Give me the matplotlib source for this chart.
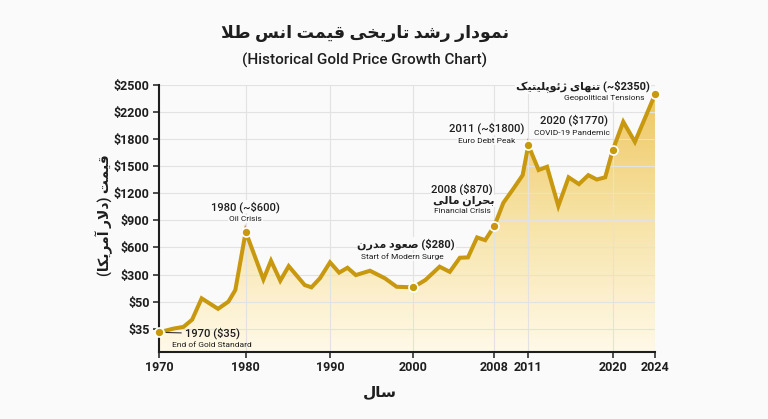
import matplotlib.pyplot as plt
import numpy as np
from matplotlib.colors import LinearSegmentedColormap

plt.rcParams["text.parse_math"] = False
FONT = ["Roboto", "DejaVu Sans"]
plt.rcParams["font.family"] = FONT

# ---- data ----
years = [1970, 1971.6, 1972.8, 1973.8, 1974.9, 1976.8, 1978.0, 1978.8, 1980,
         1982.1, 1983.0, 1984.1, 1985.1, 1987.0, 1987.8, 1988.8, 1990,
         1991.1, 1992.1, 1993.1, 1994.8, 1996.6, 1998.0, 2000,
         2001.2, 2002.6, 2003.6, 2004.6, 2005.4, 2006.3, 2007.1, 2008,
         2008.8, 2009.7, 2010.5, 2011, 2012.1, 2013.0, 2014.2, 2015.3,
         2016.4, 2017.4, 2018.3, 2019.2, 2020, 2021.0, 2022.1, 2024]
prices = [33, 35, 36, 40, 80, 46, 50, 157, 774,
          255, 453, 243, 393, 203, 182, 265, 435,
          321, 375, 295, 342, 265, 187, 182,
          250, 387, 330, 486, 490, 711, 681, 837,
          1095, 1254, 1401, 1734, 1458, 1494, 1059, 1377,
          1302, 1401, 1353, 1377, 1677, 2056, 1770, 2395]

key_years = [1970, 1980, 2000, 2008, 2011, 2020, 2024]

x_ticks = [1970, 1980, 1990, 2000, 2008, 2011, 2020, 2024]
y_ticks = [35, 50, 300, 600, 900, 1200, 1500, 1800, 2200, 2500]
y_tick_labels = ["$" + str(v) for v in y_ticks]

LINE = "#C8980F"
BG = "#FAFAFA"
INK = "#1E1E1E"

# ---- minimal Persian shaping (matplotlib has no complex text layout) ----
FORMS = {
    "ا": ("\uFE8D", "\uFE8E", None, None),
    "آ": ("\uFE81", "\uFE82", None, None),
    "ب": ("\uFE8F", "\uFE90", "\uFE91", "\uFE92"),
    "پ": ("\uFB56", "\uFB57", "\uFB58", "\uFB59"),
    "ت": ("\uFE95", "\uFE96", "\uFE97", "\uFE98"),
    "ح": ("\uFEA1", "\uFEA2", "\uFEA3", "\uFEA4"),
    "خ": ("\uFEA5", "\uFEA6", "\uFEA7", "\uFEA8"),
    "د": ("\uFEA9", "\uFEAA", None, None),
    "ر": ("\uFEAD", "\uFEAE", None, None),
    "ژ": ("\uFB8A", "\uFB8B", None, None),
    "س": ("\uFEB1", "\uFEB2", "\uFEB3", "\uFEB4"),
    "ش": ("\uFEB5", "\uFEB6", "\uFEB7", "\uFEB8"),
    "ص": ("\uFEB9", "\uFEBA", "\uFEBB", "\uFEBC"),
    "ط": ("\uFEC1", "\uFEC2", "\uFEC3", "\uFEC4"),
    "ع": ("\uFEC9", "\uFECA", "\uFECB", "\uFECC"),
    "ق": ("\uFED5", "\uFED6", "\uFED7", "\uFED8"),
    "ک": ("\uFB8E", "\uFB8F", "\uFB90", "\uFB91"),
    "ل": ("\uFEDD", "\uFEDE", "\uFEDF", "\uFEE0"),
    "م": ("\uFEE1", "\uFEE2", "\uFEE3", "\uFEE4"),
    "ن": ("\uFEE5", "\uFEE6", "\uFEE7", "\uFEE8"),
    "و": ("\uFEED", "\uFEEE", None, None),
    "ه": ("\uFEE9", "\uFEEA", "\uFEEB", "\uFEEC"),
    "ی": ("\uFBFC", "\uFBFD", "\uFBFE", "\uFBFF"),
    "ئ": ("\uFE89", "\uFE8A", "\uFE8B", "\uFE8C"),
}
LAM_ALEF = {"ا": ("\uFEFB", "\uFEFC"), "آ": ("\uFEF5", "\uFEF6")}


def joins_next(c):
    return c in FORMS and FORMS[c][2] is not None


def shape(text):
    out = []
    i = 0
    while i < len(text):
        c = text[i]
        if c not in FORMS:
            out.append(c)
            i += 1
            continue
        prev_joins = i > 0 and joins_next(text[i - 1])
        if c == "ل" and i + 1 < len(text) and text[i + 1] in LAM_ALEF:
            lig = LAM_ALEF[text[i + 1]]
            out.append(lig[1] if prev_joins else lig[0])
            i += 2
            continue
        next_joins = joins_next(c) and i + 1 < len(text) and text[i + 1] in FORMS
        isol, fin, init, med = FORMS[c]
        if prev_joins and next_joins:
            out.append(med)
        elif prev_joins:
            out.append(fin)
        elif next_joins:
            out.append(init)
        else:
            out.append(isol)
        i += 1
    return "".join(out)


def fa(text):
    return shape(text)[::-1].translate(str.maketrans("()", ")("))


# ---- piecewise scales so the ticks sit where the reference puts them ----
X_POS = [159.3, 245.7, 330.0, 413.3, 494.3, 528.3, 612.7, 655.0]


def _interp_ext(v, xp, fp):
    v = np.asarray(v, dtype=float)
    out = np.interp(v, xp, fp)
    lo = (fp[1] - fp[0]) / (xp[1] - xp[0])
    hi = (fp[-1] - fp[-2]) / (xp[-1] - xp[-2])
    out = np.where(v < xp[0], fp[0] + (v - xp[0]) * lo, out)
    out = np.where(v > xp[-1], fp[-1] + (v - xp[-1]) * hi, out)
    return out


Y_IDX = list(range(len(y_ticks)))


def x_fwd(v):
    return _interp_ext(v, x_ticks, X_POS)


def x_inv(p):
    return _interp_ext(p, X_POS, x_ticks)


def y_fwd(v):
    return _interp_ext(v, y_ticks, Y_IDX)


def y_inv(i):
    return _interp_ext(i, Y_IDX, y_ticks)


Y_BOTTOM = float(y_inv(-0.85))

fig = plt.figure(figsize=(7.68, 4.19), dpi=100, facecolor=BG)
ax = fig.add_axes([159.3 / 768, 1 - 351.7 / 419, (655 - 159.3) / 768, (351.7 - 85) / 419])
ax.set_facecolor(BG)
ax.set_xscale("function", functions=(x_fwd, x_inv))
ax.set_yscale("function", functions=(y_fwd, y_inv))

# gradient fill under the line
poly = ax.fill_between(years, prices, Y_BOTTOM, facecolor="none", edgecolor="none")
cmap = LinearSegmentedColormap.from_list("gold", ["#FFF9E8", "#F7E3A6", "#EEC55E"])
grad = np.linspace(0, 1, 256).reshape(-1, 1)
im = ax.imshow(grad, extent=[0, 1, 0, 1], transform=ax.transAxes, origin="lower",
               aspect="auto", cmap=cmap, zorder=0.4)
im.set_clip_path(poly.get_paths()[0], transform=ax.transData)

ax.plot(years, prices, color=LINE, linewidth=2.9, solid_joinstyle="miter", zorder=3)
key_prices = [prices[years.index(y)] for y in key_years]
ax.plot(key_years, key_prices, "o", color=LINE, markersize=6.5,
        markeredgecolor="white", markeredgewidth=1.2, zorder=4, clip_on=False)

ax.set_xlim(1970, 2024)
ax.set_ylim(Y_BOTTOM, 2500)
ax.set_xticks(x_ticks)
ax.set_xticklabels([str(y) for y in x_ticks])
ax.set_yticks(y_ticks)
ax.set_yticklabels(y_tick_labels)
ax.minorticks_off()
for lab in ax.get_xticklabels() + ax.get_yticklabels():
    lab.set_fontweight("bold")
ax.tick_params(direction="out", length=4, width=1.1, labelsize=9, colors=INK, pad=3)
ax.grid(True, color="#E2E2E2", linewidth=0.8)
ax.set_axisbelow(True)
for side in ("top", "right"):
    ax.spines[side].set_visible(False)
for side in ("left", "bottom"):
    ax.spines[side].set_linewidth(1.5)
    ax.spines[side].set_color(INK)

# ---- annotations: (year, text, dx px, dy px, size, weight, ha, bbox) ----
box = dict(facecolor=BG, edgecolor="none", pad=0.6)
notes = [
    (1970, "1970 ($35)", 25.7, -0.6, 8, "medium", "left", None),
    (1970, "End of Gold Standard", 12.4, -12.6, 6, "normal", "left", None),
    (1980, "1980 (~$600)", 0, 25, 8, "medium", "center", box),
    (1980, "Oil Crisis", 0, 12.5, 6, "normal", "center", box),
    (2000, fa("صعود مدرن") + " ($280)", -7, 43.6, 8, "bold", "center", box),
    (2000, "Start of Modern Surge", -11, 30.3, 6, "normal", "center", box),
    (2008, "2008 ($870)", -32, 36.7, 8, "medium", "center", box),
    (2008, fa("بحران مالی"), -31, 25, 8, "bold", "center", box),
    (2008, "Financial Crisis", -32, 15.3, 6, "normal", "center", box),
    (2011, "2011 (~$1800)", -42, 16.7, 8, "medium", "center", box),
    (2011, "Euro Debt Peak", -42, 4, 6, "normal", "center", box),
    (2020, "2020 ($1770)", -39, 30, 8, "medium", "center", box),
    (2020, "COVID-19 Pandemic", -41, 17.7, 6, "normal", "center", box),
    (2024, fa("تنهای ژئوپلیتیک") + " (~$2350)", -5, 7.6, 8, "bold", "right", box),
    (2024, "Geopolitical Tensions", -10, -4, 6, "normal", "right", box),
]
for yr, txt, dx, dy, size, weight, ha, bb in notes:
    ax.annotate(txt, xy=(yr, prices[years.index(yr)]), xytext=(dx, dy),
                textcoords="offset pixels", ha=ha, va="center", fontsize=size,
                fontweight=weight, color=INK, bbox=bb, zorder=5, annotation_clip=False)

# leader dash for 1970
ax.annotate("", xy=(1970, prices[0]), xytext=(22, -0.6), textcoords="offset pixels",
            arrowprops=dict(arrowstyle="-", color="#333333", lw=0.8, shrinkA=0, shrinkB=5),
            annotation_clip=False)

# ---- titles and axis labels ----
fig.text(365 / 768, 1 - 33 / 419, fa("نمودار رشد تاریخی قیمت انس طلا"),
         ha="center", va="center", fontsize=12.5, fontweight="bold", color=INK)
fig.text(365 / 768, 1 - 60 / 419, "(Historical Gold Price Growth Chart)",
         ha="center", va="center", fontsize=11, fontweight="medium", color=INK)
fig.text(104 / 768, 1 - 215 / 419, fa("قیمت (دلار آمریکا)"), rotation=90,
         ha="center", va="center", fontsize=10, fontweight="bold", color=INK)
fig.text(380 / 768, 1 - 392 / 419, fa("سال"),
         ha="center", va="center", fontsize=11, fontweight="bold", color=INK)

fig.savefig("out.png", dpi=100, facecolor=BG)
